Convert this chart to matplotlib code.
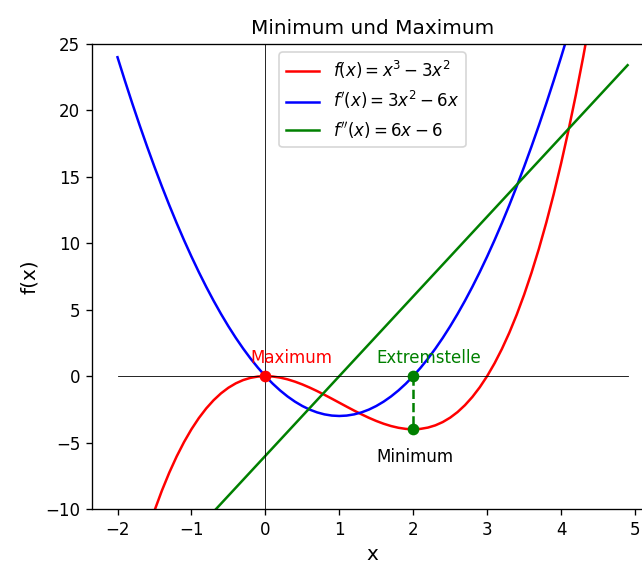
import numpy as np
import matplotlib.pyplot as plt

# polynomial coefficients (highest power first)
f_coef = [1, -3, 0, 0]     # x^3 - 3x^2
f1_coef = [3, -6, 0]       # 3x^2 - 6x
f2_coef = [6, -6]          # 6x - 6

x_start, x_stop, x_step = -2, 5, 0.1

max_point = (0, 0)
extrem_point = (2, 0)
min_point = (2, -4)

x = np.arange(x_start, x_stop, x_step)

fig = plt.figure(figsize=(5.35, 4.675), dpi=120)
ax = fig.add_axes([0.1433, 0.0927, 0.874, 0.829])

ax.plot(x, np.polyval(f_coef, x), color='red', label=r'$f(x) = x^3 - 3x^2$')
ax.plot(x, np.polyval(f1_coef, x), color='blue', label=r"$f'(x) = 3x^2 - 6x$")
ax.plot(x, np.polyval(f2_coef, x), color='green', label=r"$f''(x) = 6x - 6$")

# coordinate axes
ax.plot(x, 0 * x, color='black', linewidth=0.5)
ax.axvline(0, color='black', linewidth=0.5)

ax.plot([extrem_point[0], min_point[0]], [extrem_point[1], min_point[1]],
        color='green', linestyle='--')
ax.plot(*max_point, 'o', color='red')
ax.plot(*extrem_point, 'o', color='green')
ax.plot(*min_point, 'o', color='green')

ax.text(-0.2, 1.0, 'Maximum', color='red')
ax.text(1.5, 1.0, 'Extremstelle', color='green')
ax.text(1.5, -6.5, 'Minimum', color='black')

ax.set_ylim(-10, 25)
ax.set_xlabel('x', fontsize=12)
ax.set_ylabel('f(x)', fontsize=12)
ax.set_title('Minimum und Maximum', fontsize=12)
ax.legend(loc='upper center')

plt.savefig('out.png', dpi=120)
plt.close(fig)
